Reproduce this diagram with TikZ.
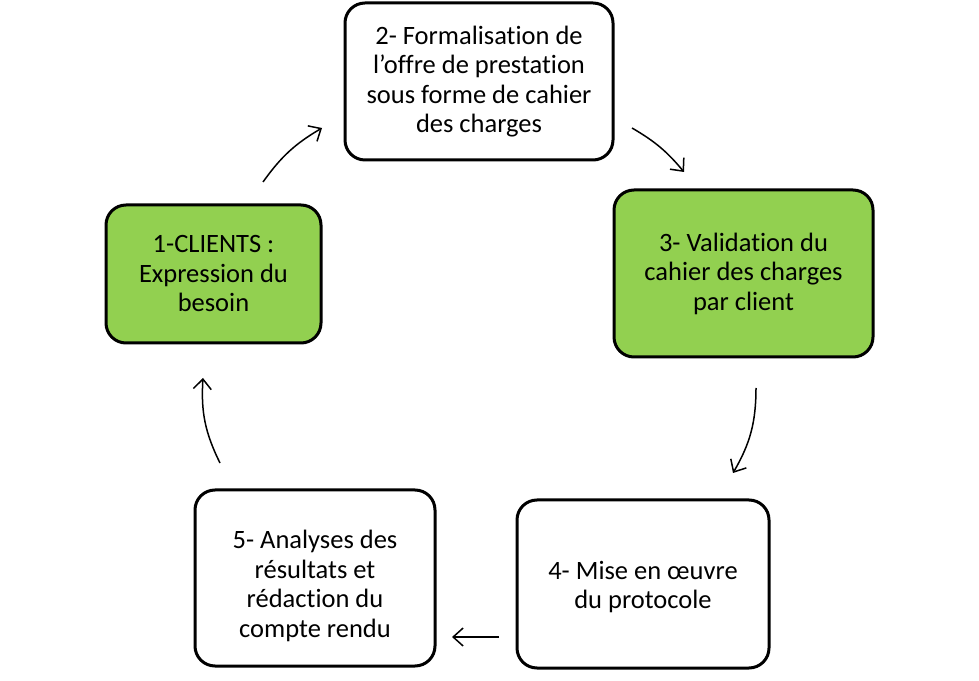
\documentclass[tikz,border=0pt]{standalone}
\usepackage{fontspec}
\setmainfont{Carlito}[Ligatures={NoCommon}]
\usetikzlibrary{arrows.meta}
\definecolor{leafgreen}{HTML}{92D050}
\tikzset{
  steptext/.style={align=center, font=\fontsize{26.5}{29.5}\selectfont, inner sep=0pt},
  stepbox/.style={steptext, draw=black, line width=3pt, rounded corners=20pt, fill=white},
  greenbox/.style={stepbox, fill=leafgreen},
  cyclearrow/.style={line width=1.5pt, -{Straight Barb[length=10pt, width=18pt, line width=1.5pt]}}
}
\begin{document}
\begin{tikzpicture}[x=1pt, y=1pt]
  \useasboundingbox (0,0) rectangle (979,680);

  \node[greenbox, minimum width=215pt, minimum height=138pt] (c1) at (213.5,406)
    {1-CLIENTS :\\Expression du\\besoin};
  \node[stepbox, minimum width=268pt, minimum height=157pt] (c2) at (479,598.5)
    {2- Formalisation de\\l’offre de prestation\\sous forme de cahier\\des charges};
  \node[greenbox, minimum width=259pt, minimum height=167pt] (c3) at (743.5,406.5)
    {3- Validation du\\cahier des charges\\par client};
  \node[stepbox, minimum width=252pt, minimum height=168pt,
    label={[steptext, yshift=-3pt]center:4- Mise en œuvre\\du protocole}] (c4) at (643,96) {};
  \node[stepbox, minimum width=240pt, minimum height=176pt,
    label={[steptext, yshift=-8pt]center:5- Analyses des\\résultats et\\rédaction du\\compte rendu}] (c5) at (315,102) {};

  % arrow ends
  \coordinate (a1) at (263,498); \coordinate (b1) at (322,552);
  \coordinate (a2) at (632,552); \coordinate (b2) at (684,508);
  \coordinate (a3) at (756,292); \coordinate (b3) at (733,207);
  \coordinate (a4) at (499,43);  \coordinate (b4) at (452,43);
  \coordinate (a5) at (220,217); \coordinate (b5) at (203,302);

  \draw[cyclearrow] (a1) to[bend left=12] (b1);
  \draw[cyclearrow] (a2) to[bend left=10] (b2);
  \draw[cyclearrow] (a3) to[bend left=15] (b3);
  \draw[cyclearrow] (a4) -- (b4);
  \draw[cyclearrow] (a5) to[bend left=15] (b5);
\end{tikzpicture}
\end{document}
